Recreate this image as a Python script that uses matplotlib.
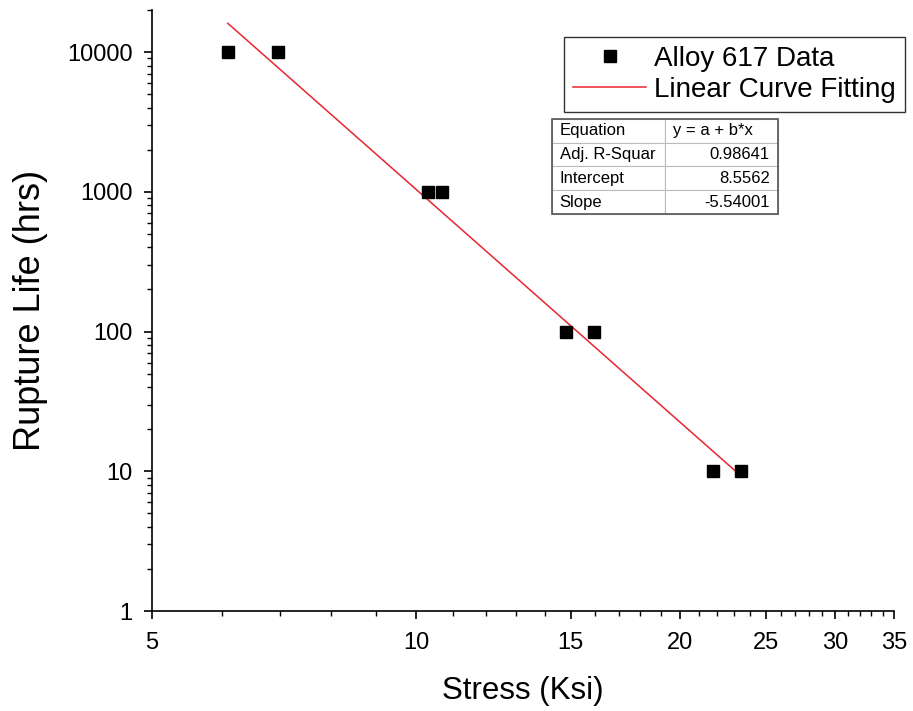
import matplotlib
matplotlib.use('Agg')
import matplotlib.pyplot as plt
import numpy as np
from matplotlib.ticker import FixedLocator, NullFormatter

plt.rcParams['font.family'] = ['Liberation Sans', 'DejaVu Sans']

# 数据
stress = [6.1, 6.95, 10.3, 10.7, 14.8, 15.95, 21.8, 23.45]
life = [10000, 10000, 1000, 1000, 100, 100, 10, 10]

# 拟合参数 (log10 y = a + b * log10 x)
fit_intercept = 8.5562
fit_slope = -5.54001
fit_r2 = 0.98641

x_ticks = [5, 10, 15, 20, 25, 30, 35]
x_minor = [6, 7, 8, 9, 11, 12, 13, 14, 16, 17, 18, 19, 21, 22, 23, 24,
           26, 27, 28, 29, 31, 32, 33, 34]
y_ticks = [1, 10, 100, 1000, 10000]

table_rows = [
    ['Equation', 'y = a + b*x'],
    ['Adj. R-Squar', f'{fit_r2:.5f}'],
    ['Intercept', f'{fit_intercept}'],
    ['Slope', f'{fit_slope}'],
]

fig = plt.figure(figsize=(9.13, 7.11), dpi=100)
ax = fig.add_axes([0.1665, 0.1406, 0.8125, 0.8454])

ax.plot(stress, life, 's', color='black', ms=9, label='Alloy 617 Data', zorder=3)

xf = np.array([min(stress), max(stress)])
yf = 10 ** (fit_intercept + fit_slope * np.log10(xf))
ax.plot(xf, yf, '-', color='#e8262f', lw=1.1, label='Linear Curve Fitting', zorder=2)

ax.set_xscale('log')
ax.set_yscale('log')
ax.set_xlim(5, 35)
ax.set_ylim(1, 20000)

ax.xaxis.set_major_locator(FixedLocator(x_ticks))
ax.set_xticklabels([str(t) for t in x_ticks])
ax.xaxis.set_minor_locator(FixedLocator(x_minor))
ax.xaxis.set_minor_formatter(NullFormatter())
ax.yaxis.set_major_locator(FixedLocator(y_ticks))
ax.set_yticklabels([str(t) for t in y_ticks])

for s in ['top', 'right']:
    ax.spines[s].set_visible(False)
for s in ['left', 'bottom']:
    ax.spines[s].set_linewidth(1.2)

ax.tick_params(which='major', direction='out', length=6, width=1.2, labelsize=17)
ax.tick_params(axis='x', which='major', pad=9)
ax.tick_params(axis='y', which='major', pad=8)
ax.tick_params(which='minor', direction='out', length=3.5, width=1.0)

ax.set_xlabel('Stress (Ksi)', fontsize=22.5, labelpad=16)
ax.set_ylabel('Rupture Life (hrs)', fontsize=26, labelpad=14)

leg = ax.legend(loc='upper right', bbox_to_anchor=(1.015, 0.955), fontsize=20,
                frameon=True, fancybox=False, edgecolor='black', borderpad=0.33,
                labelspacing=0.18, handlelength=2.6, handletextpad=0.3,
                borderaxespad=0)
leg.get_frame().set_linewidth(1.0)

tbl = ax.table(cellText=table_rows, bbox=[0.539, 0.6606, 0.3046, 0.158],
               colWidths=[0.5, 0.5], cellLoc='left')
tbl.auto_set_font_size(False)
tbl.set_fontsize(12)
for (r, c), cell in tbl.get_celld().items():
    cell.set_edgecolor('#bbbbbb')
    cell.set_linewidth(0.8)
    cell.PAD = 0.07
    if c == 1 and r > 0:
        cell._loc = 'right'
        cell.get_text().set_horizontalalignment('right')
# 外框
ax.add_patch(plt.Rectangle((0.539, 0.6606), 0.3046, 0.158, transform=ax.transAxes,
                           fill=False, edgecolor='#555555', lw=1.2, zorder=10))

fig.savefig('out.png', dpi=100)
